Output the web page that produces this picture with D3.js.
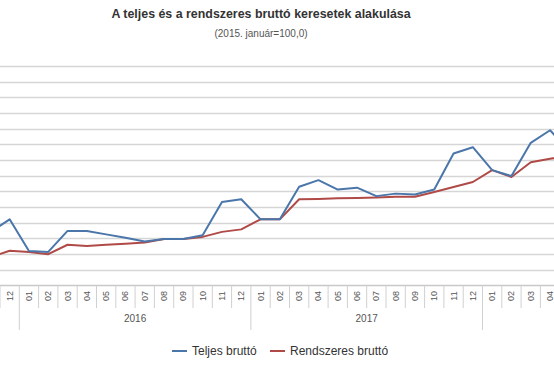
<!DOCTYPE html>
<html>
<head>
<meta charset="utf-8">
<script src="https://cdn.jsdelivr.net/npm/d3@7"></script>
<style>
  body { margin: 0; background: #fff; }
  svg { display: block; font-family: "Liberation Sans", Arial, sans-serif; }
</style>
</head>
<body>
<div id="chart"></div>
<script>
// Months shown (the screenshot is cropped on both sides)
var months = [
  '2015-11', '2015-12',
  '2016-01', '2016-02', '2016-03', '2016-04', '2016-05', '2016-06',
  '2016-07', '2016-08', '2016-09', '2016-10', '2016-11', '2016-12',
  '2017-01', '2017-02', '2017-03', '2017-04', '2017-05', '2017-06',
  '2017-07', '2017-08', '2017-09', '2017-10', '2017-11', '2017-12',
  '2018-01', '2018-02', '2018-03', '2018-04', '2018-05'
];

// Teljes bruttó
var teljes = [
  107.0, 111.1,
  101.0, 100.7, 107.4, 107.4, 106.3, 105.2, 104.0, 104.8, 104.8, 106.0, 116.6, 117.5,
  111.1, 111.1, 121.5, 123.6, 120.6, 121.2, 118.5, 119.3, 119.0, 120.6, 132.1, 134.1,
  126.8, 124.9, 135.5, 139.5, 133.0
];

// Rendszeres bruttó
var rendszeres = [
  99.0, 101.1,
  100.7, 100.0, 103.0, 102.6, 103.0, 103.3, 103.7, 104.8, 104.8, 105.5, 107.1, 107.9,
  111.1, 111.1, 117.5, 117.6, 117.8, 117.9, 118.1, 118.3, 118.3, 119.8, 121.4, 123.0,
  126.8, 124.6, 129.3, 130.4, 131.5
];

var series = [
  { name: 'Teljes bruttó', values: teljes, color: '#4a76aa' },
  { name: 'Rendszeres bruttó', values: rendszeres, color: '#b04a47' }
];

var width = 554, height = 375;
var bandW = 19.3;
var axisY = 285.5;

var svg = d3.select('#chart').append('svg')
  .attr('width', width)
  .attr('height', height);

// Titles
svg.append('text')
  .attr('x', 261).attr('y', 18)
  .attr('text-anchor', 'middle')
  .style('font-size', '12.4px').style('font-weight', 'bold').style('fill', '#333')
  .text('A teljes és a rendszeres bruttó keresetek alakulása');

svg.append('text')
  .attr('x', 261).attr('y', 37)
  .attr('text-anchor', 'middle')
  .style('font-size', '10px').style('fill', '#555')
  .text('(2015. január=100,0)');

// Scales
var x = d3.scaleBand()
  .domain(months)
  .range([-bandW, -bandW + months.length * bandW]);

var y = d3.scaleLinear()
  .domain([90, 160])
  .range([axisY, 66]);

// Grid lines
svg.append('g').selectAll('line')
  .data(d3.range(95, 161, 5))
  .join('line')
    .attr('x1', 0).attr('x2', width)
    .attr('y1', d => Math.round(y(d)) + 0.5)
    .attr('y2', d => Math.round(y(d)) + 0.5)
    .style('stroke', '#d6d6d6')
    .style('stroke-width', 1.5);

// Axis line
svg.append('line')
  .attr('x1', 0).attr('x2', width)
  .attr('y1', axisY).attr('y2', axisY)
  .style('stroke', '#c8c8c8').style('stroke-width', 1.5);

// Month separators and labels
var ticks = svg.append('g');
ticks.selectAll('line')
  .data(months)
  .join('line')
    .attr('x1', d => x(d)).attr('x2', d => x(d))
    .attr('y1', axisY)
    .attr('y2', d => d.slice(5) === '01' ? 330 : 308)
    .style('stroke', '#d0d0d0');

// only the labels whose band centre is in view
var visibleMonths = months.filter(d => x(d) + bandW / 2 > 0 && x(d) + bandW / 2 < width);
ticks.selectAll('text')
  .data(visibleMonths)
  .join('text')
    .attr('transform', d => 'translate(' + (x(d) + bandW / 2 + 3) + ',296) rotate(-90)')
    .attr('text-anchor', 'middle')
    .style('font-size', '9px').style('fill', '#555')
    .text(d => d.slice(5));

// Year group labels (only complete years are fully in view)
var years = d3.groups(months, d => d.slice(0, 4)).filter(g => g[1].length === 12);
svg.append('g').selectAll('text')
  .data(years)
  .join('text')
    .attr('x', g => (x(g[1][0]) + x(g[1][11]) + bandW) / 2)
    .attr('y', 322)
    .attr('text-anchor', 'middle')
    .style('font-size', '10px').style('fill', '#555')
    .text(g => g[0]);

// Lines
var line = d3.line()
  .x((d, i) => x(months[i]) + bandW / 2)
  .y(d => y(d));

svg.append('g').selectAll('path')
  .data(series.slice().reverse())
  .join('path')
    .attr('d', s => line(s.values))
    .style('fill', 'none')
    .style('stroke', s => s.color)
    .style('stroke-width', 2)
    .style('stroke-linejoin', 'round');

// Legend
var legendX = [172, 270];
var legend = svg.append('g').selectAll('g')
  .data(series)
  .join('g')
    .attr('transform', (s, i) => 'translate(' + legendX[i] + ',351)');

legend.append('line')
  .attr('x1', 0).attr('x2', 15)
  .style('stroke', s => s.color).style('stroke-width', 2);

legend.append('text')
  .attr('x', 20).attr('y', 4)
  .style('font-size', '12px').style('fill', '#333')
  .text(s => s.name);
</script>
</body>
</html>
